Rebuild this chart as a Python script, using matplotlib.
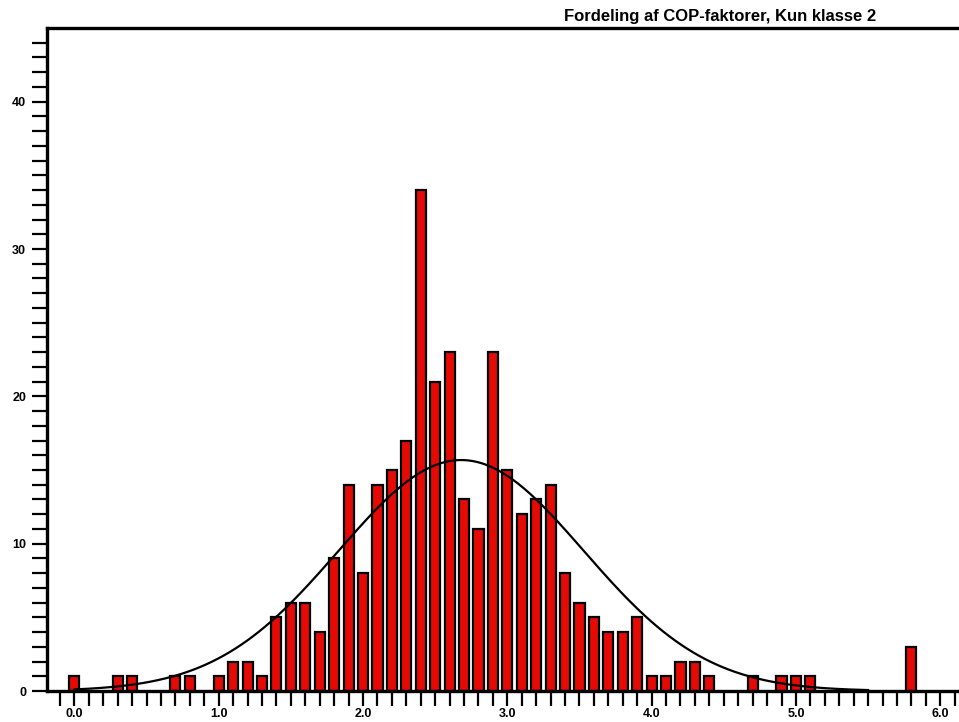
import numpy as np
import matplotlib
matplotlib.use('Agg')
import matplotlib.pyplot as plt
from matplotlib.ticker import MultipleLocator, FormatStrFormatter

plt.rcParams['font.family'] = ['Liberation Sans', 'DejaVu Sans']

# bin centres (COP factor) and counts
cop = [0.0, 0.3, 0.4, 0.7, 0.8, 1.0, 1.1, 1.2, 1.3, 1.4, 1.5, 1.6, 1.7, 1.8, 1.9,
       2.0, 2.1, 2.2, 2.3, 2.4, 2.5, 2.6, 2.7, 2.8, 2.9,
       3.0, 3.1, 3.2, 3.3, 3.4, 3.5, 3.6, 3.7, 3.8, 3.9,
       4.0, 4.1, 4.2, 4.3, 4.4, 4.7, 4.9, 5.0, 5.1, 5.8]
counts = [1, 1, 1, 1, 1, 1, 2, 2, 1, 5, 6, 6, 4, 9, 14,
          8, 14, 15, 17, 34, 21, 23, 13, 11, 23,
          15, 12, 13, 14, 8, 6, 5, 4, 4, 5,
          1, 1, 2, 2, 1, 1, 1, 1, 1, 3]

# fitted normal curve parameters
mu = 2.68
sigma = 0.85
bin_w = 0.1
curve_range = (0.0, 5.5)

title = 'Fordeling af COP-faktorer, Kun klasse 2'

fig = plt.figure(figsize=(9.59, 7.22), dpi=100)
ax = fig.add_axes([47 / 959, 31 / 722, 1 - 47 / 959, 663 / 722])

ax.bar(cop, counts, width=0.07, color='#e60a05', edgecolor='black', linewidth=1.6, zorder=2)

n = sum(counts)
xs = np.linspace(curve_range[0], curve_range[1], 400)
ys = n * bin_w / (sigma * np.sqrt(2 * np.pi)) * np.exp(-0.5 * ((xs - mu) / sigma) ** 2)
ax.plot(xs, ys, color='black', linewidth=1.6, zorder=3)

ax.set_xlim(-0.19, 6.13)
ax.set_ylim(0, 45)

ax.spines['right'].set_visible(False)
for s in ['left', 'bottom', 'top']:
    ax.spines[s].set_linewidth(2.4)

ax.xaxis.set_major_locator(MultipleLocator(1.0))
ax.xaxis.set_minor_locator(MultipleLocator(0.1))
ax.xaxis.set_major_formatter(FormatStrFormatter('%.1f'))
ax.yaxis.set_major_locator(MultipleLocator(10))
ax.set_yticks(np.arange(0, 45, 1), minor=True)

ax.tick_params(which='both', direction='out', length=11, width=1.6, top=False, right=False)
ax.tick_params(which='major', labelsize=9)
ax.tick_params(axis='x', which='major', pad=1.5)
ax.tick_params(axis='y', which='major', pad=4)
for lbl in ax.get_xticklabels() + ax.get_yticklabels():
    lbl.set_fontweight('bold')

fig.text(720 / 959, 1 - 16 / 722, title, ha='center', va='center',
         fontsize=12, fontweight='bold')

fig.savefig('out.png', dpi=100)
